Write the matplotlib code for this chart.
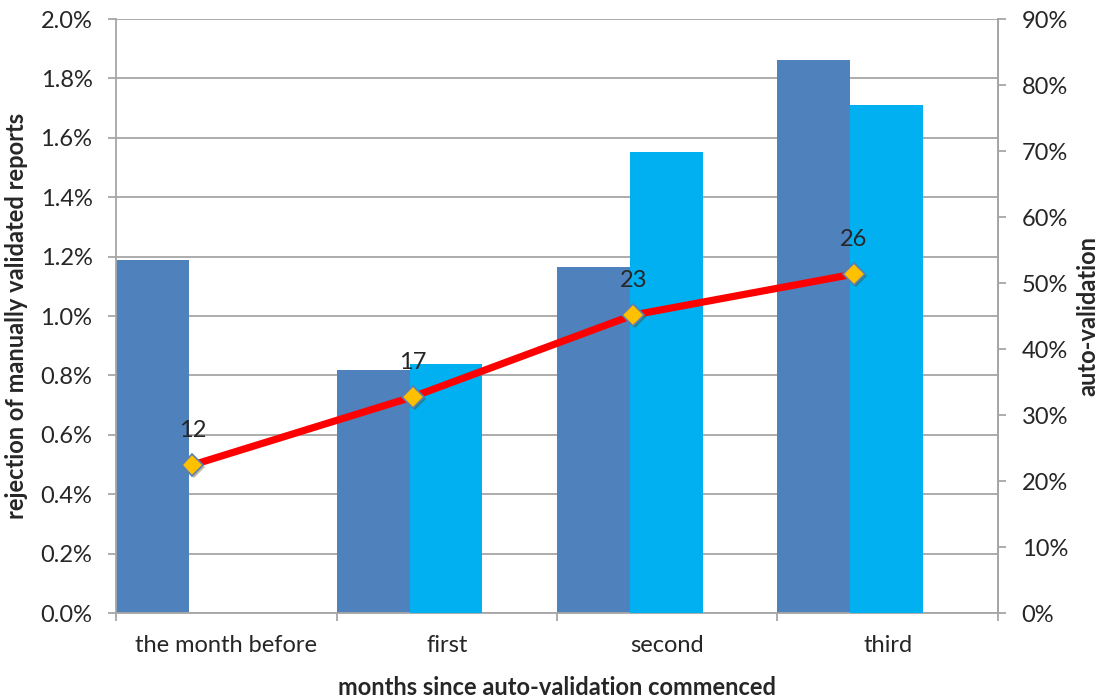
import matplotlib.pyplot as plt
import numpy as np
from matplotlib.ticker import FuncFormatter, FixedLocator
import matplotlib.patheffects as pe

plt.rcParams['font.family'] = ['Lato', 'DejaVu Sans']

# data
months = ['the month before', 'first', 'second', 'third']
rejection_manual = [1.19, 0.818, 1.165, 1.862]          # % (left axis)
auto_validated = [np.nan, 37.7, 69.8, 77.0]              # % (right axis)
rejection_auto = [12, 17, 23, 26]                         # line, labelled

DARK = '#4F81BD'
LIGHT = '#00B0F0'
GRID = '#A6A6A6'
TXT = '#262626'
FS = 17

x = np.arange(len(months))
w = 0.331

fig = plt.figure(figsize=(11.02, 6.97), dpi=100)
ax = fig.add_axes([0.1053, 0.1205, 0.8003, 0.8522])
ax2 = ax.twinx()
ax3 = ax.twinx()

# left axis: manual rejection bars
ax.bar(x - 0.5, rejection_manual, width=w, align='edge', color=DARK, zorder=2)
ax.set_ylim(0, 2.0)
ax.set_yticks(np.arange(0, 2.01, 0.2))
ax.yaxis.set_major_formatter(FuncFormatter(lambda v, p: f'{v:.1f}%'))
ax.grid(axis='y', color=GRID, linewidth=1.3)
ax.set_axisbelow(True)
ax.set_xlim(-0.5, 3.5)
ax.xaxis.set_major_locator(FixedLocator(np.arange(-0.5, 3.6, 1)))
ax.xaxis.set_minor_locator(FixedLocator(x))
ax.set_xticklabels([])
ax.set_xticklabels(months, minor=True)
ax.tick_params(axis='x', which='major', length=6, width=1.3, color=GRID)
ax.tick_params(axis='x', which='minor', length=0, pad=16, labelsize=FS, labelcolor=TXT)
ax.tick_params(axis='y', length=6, width=1.3, color=GRID, pad=11, labelsize=FS, labelcolor=TXT)
ax.spines['top'].set_visible(False)
for s in ['left', 'bottom', 'right']:
    ax.spines[s].set_color(GRID)
    ax.spines[s].set_linewidth(1.3)
ax.set_xlabel('months since auto-validation commenced', fontsize=FS, fontweight='bold',
              color=TXT, labelpad=14)
ax.set_ylabel('rejection of manually validated reports', fontsize=FS, fontweight='bold',
              color=TXT, labelpad=9)

# right axis: auto-validation share
ax2.bar(x - 0.5 + w, auto_validated, width=w, align='edge', color=LIGHT, zorder=2)
ax2.set_ylim(0, 90)
ax2.set_yticks(np.arange(0, 91, 10))
ax2.yaxis.set_major_formatter(FuncFormatter(lambda v, p: f'{v:.0f}%'))
ax2.tick_params(axis='y', length=6, width=1.3, color=GRID, pad=11, labelsize=FS, labelcolor=TXT)
for s in ['top', 'left', 'bottom']:
    ax2.spines[s].set_visible(False)
ax2.spines['right'].set_color(GRID)
ax2.spines['right'].set_linewidth(1.3)
ax2.set_ylabel('auto-validation', fontsize=FS, fontweight='bold', color=TXT, labelpad=6)

# hidden axis for the labelled line
ax3.set_ylim(1.15, 44.7)
ax3.axis('off')
lx = x - 0.5 + w + 0.015
ax3.plot(lx, rejection_auto, color='#FF0000', linewidth=5.2, zorder=3, solid_capstyle='butt')
ax3.plot(lx, rejection_auto, linestyle='none', marker='D', markersize=11,
         markerfacecolor='#FFC000', markeredgecolor='#5B7FB0', markeredgewidth=1.2, zorder=4,
         path_effects=[pe.SimplePatchShadow(offset=(1.5, -1.5), alpha=0.35), pe.Normal()])
for xi, v in zip(lx, rejection_auto):
    ax3.annotate(str(v), (xi, v), xytext=(0, 17), textcoords='offset points',
                 ha='center', va='bottom', fontsize=FS, color=TXT)

fig.savefig('out.png', dpi=100)
